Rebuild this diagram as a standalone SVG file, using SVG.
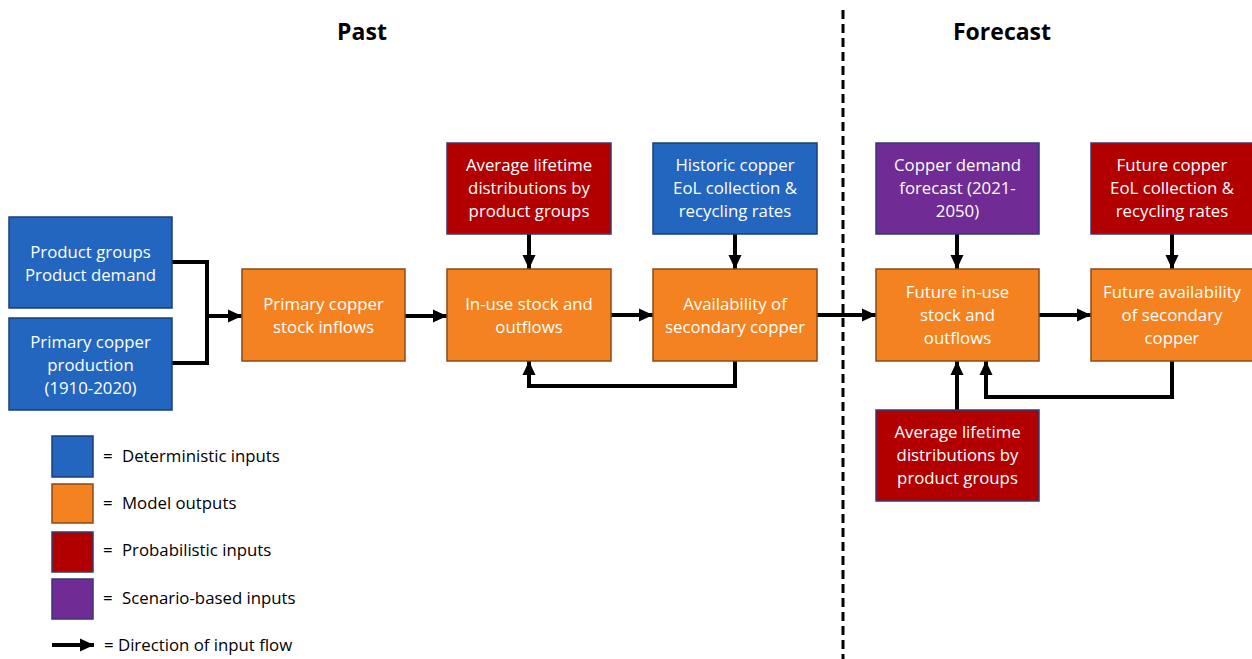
<svg xmlns="http://www.w3.org/2000/svg" width="1252" height="659" viewBox="0 0 1252 659">
<defs>
<marker id="ah" markerUnits="userSpaceOnUse" markerWidth="16" markerHeight="16" refX="14" refY="8" orient="auto">
<path d="M0,1.5 L14,8 L0,14.5 z" fill="#000"/>
</marker>
<style>
.blue{fill:#2266c0;stroke:#1b3f73;stroke-width:1.5}
.orange{fill:#f58220;stroke:#8a4a1a;stroke-width:1.5}
.red{fill:#b20000;stroke:#3a3a6a;stroke-width:1.5}
.purple{fill:#702b95;stroke:#2f3a7a;stroke-width:1.5}
.t{font-family:"Open Sans","Liberation Sans",sans-serif;font-size:16.8px;fill:#fff;text-anchor:middle}
.lt{font-family:"Open Sans","Liberation Sans",sans-serif;font-size:16.8px;fill:#000}
.title{font-family:"Open Sans","Liberation Sans",sans-serif;font-size:23px;font-weight:bold;fill:#000;text-anchor:middle}
.c{fill:none;stroke:#000;stroke-width:4}
</style>
</defs>
<rect width="1252" height="659" fill="#fff"/>
<text class="title" x="362" y="40">Past</text>
<text class="title" x="1002" y="40">Forecast</text>
<line x1="843" y1="10" x2="843" y2="659" stroke="#000" stroke-width="3" stroke-dasharray="9 5"/>

<g id="connectors">
<polyline class="c" points="172,262 207,262 207,363 172,363"/>
<line class="c" x1="207" y1="316" x2="242" y2="316" marker-end="url(#ah)"/>
<line class="c" x1="405" y1="316" x2="447" y2="316" marker-end="url(#ah)"/>
<line class="c" x1="529" y1="234" x2="529" y2="269" marker-end="url(#ah)"/>
<line class="c" x1="735" y1="234" x2="735" y2="269" marker-end="url(#ah)"/>
<line class="c" x1="611" y1="315" x2="653" y2="315" marker-end="url(#ah)"/>
<polyline class="c" points="735,361 735,386 529,386 529,361" marker-end="url(#ah)"/>
<line class="c" x1="817" y1="315" x2="876" y2="315" marker-end="url(#ah)"/>
<line class="c" x1="957" y1="234" x2="957" y2="269" marker-end="url(#ah)"/>
<line class="c" x1="1172" y1="234" x2="1172" y2="269" marker-end="url(#ah)"/>
<line class="c" x1="1039" y1="315" x2="1091" y2="315" marker-end="url(#ah)"/>
<line class="c" x1="957" y1="410" x2="957" y2="361" marker-end="url(#ah)"/>
<polyline class="c" points="1172,361 1172,397 986,397 986,361" marker-end="url(#ah)"/>
</g>

<g id="product-groups">
<rect class="blue" x="9" y="217" width="163" height="91"/>
<text class="t" x="90.5" y="258">Product groups</text>
<text class="t" x="90.5" y="281">Product demand</text>
</g>
<g id="primary-production">
<rect class="blue" x="9" y="318" width="163" height="92"/>
<text class="t" x="90.5" y="348">Primary copper</text>
<text class="t" x="90.5" y="371">production</text>
<text class="t" x="90.5" y="394">(1910-2020)</text>
</g>
<g id="primary-inflows">
<rect class="orange" x="242" y="269" width="163" height="92"/>
<text class="t" x="323.5" y="310">Primary copper</text>
<text class="t" x="323.5" y="333">stock inflows</text>
</g>
<g id="avg-lifetime-past">
<rect class="red" x="447" y="143" width="164" height="91"/>
<text class="t" x="529" y="171">Average lifetime</text>
<text class="t" x="529" y="194">distributions by</text>
<text class="t" x="529" y="217">product groups</text>
</g>
<g id="historic-eol">
<rect class="blue" x="653" y="143" width="164" height="91"/>
<text class="t" x="735" y="171">Historic copper</text>
<text class="t" x="735" y="194">EoL collection &amp;</text>
<text class="t" x="735" y="217">recycling rates</text>
</g>
<g id="in-use-stock">
<rect class="orange" x="447" y="269" width="164" height="92"/>
<text class="t" x="529" y="310">In-use stock and</text>
<text class="t" x="529" y="333">outflows</text>
</g>
<g id="availability-secondary">
<rect class="orange" x="653" y="269" width="164" height="92"/>
<text class="t" x="735" y="310">Availability of</text>
<text class="t" x="735" y="333">secondary copper</text>
</g>
<g id="copper-demand-forecast">
<rect class="purple" x="876" y="143" width="163" height="91"/>
<text class="t" x="957.5" y="171">Copper demand</text>
<text class="t" x="957.5" y="194">forecast (2021-</text>
<text class="t" x="957.5" y="217">2050)</text>
</g>
<g id="future-eol">
<rect class="red" x="1091" y="143" width="163" height="91"/>
<text class="t" x="1172" y="171">Future copper</text>
<text class="t" x="1172" y="194">EoL collection &amp;</text>
<text class="t" x="1172" y="217">recycling rates</text>
</g>
<g id="future-in-use">
<rect class="orange" x="876" y="269" width="163" height="92"/>
<text class="t" x="957.5" y="298">Future in-use</text>
<text class="t" x="957.5" y="321">stock and</text>
<text class="t" x="957.5" y="344">outflows</text>
</g>
<g id="future-availability">
<rect class="orange" x="1091" y="269" width="163" height="92"/>
<text class="t" x="1172" y="298">Future availability</text>
<text class="t" x="1172" y="321">of secondary</text>
<text class="t" x="1172" y="344">copper</text>
</g>
<g id="avg-lifetime-future">
<rect class="red" x="876" y="410" width="163" height="91"/>
<text class="t" x="957.5" y="438">Average lifetime</text>
<text class="t" x="957.5" y="461">distributions by</text>
<text class="t" x="957.5" y="484">product groups</text>
</g>

<g id="legend">
<rect class="blue" x="52" y="436" width="41" height="41"/>
<text class="lt" x="103" y="462">=</text>
<text class="lt" x="122" y="462">Deterministic inputs</text>
<rect class="orange" x="52" y="484" width="41" height="39"/>
<text class="lt" x="103" y="509">=</text>
<text class="lt" x="122" y="509">Model outputs</text>
<rect class="red" x="52" y="532" width="41" height="40"/>
<text class="lt" x="103" y="556">=</text>
<text class="lt" x="122" y="556">Probabilistic inputs</text>
<rect class="purple" x="52" y="579" width="41" height="40"/>
<text class="lt" x="103" y="604">=</text>
<text class="lt" x="122" y="604">Scenario-based inputs</text>
<line class="c" x1="52" y1="645" x2="94" y2="645" marker-end="url(#ah)"/>
<text class="lt" x="104" y="651">= Direction of input flow</text>
</g>
</svg>
